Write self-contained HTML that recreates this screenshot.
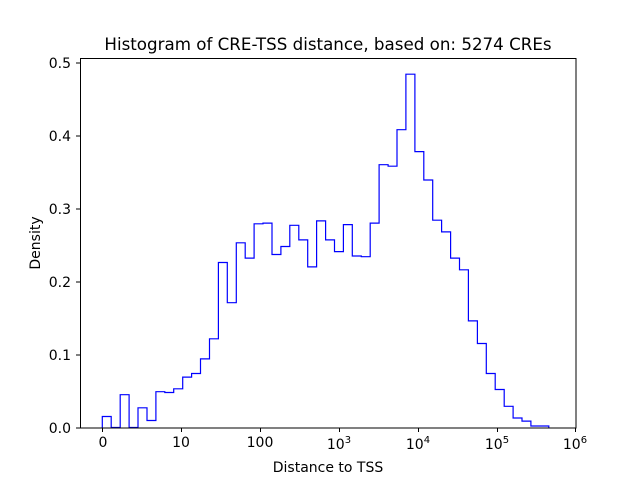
<!DOCTYPE html>
<html><head><meta charset="utf-8"><style>body{margin:0;background:#fff}svg{display:block}text{font-family:"DejaVu Sans","Liberation Sans",sans-serif;fill:#000}</style></head>
<body>
<svg width="640" height="480" viewBox="0 0 640 480" xmlns="http://www.w3.org/2000/svg">
<rect width="640" height="480" fill="#fff"/>
<path fill="none" stroke="#0000ff" stroke-width="1.2" d="M102.3,427.5 V416.5 H111.2 V427.5 H120.2 V394.7 H129.1 V427.5 H138.0 V407.8 H147.0 V420.5 H155.9 V391.7 H164.8 V392.5 H173.7 V388.8 H182.7 V377.1 H191.6 V373.5 H200.5 V358.9 H209.5 V338.8 H218.4 V262.5 H227.3 V302.7 H236.3 V242.8 H245.2 V258.1 H254.1 V223.8 H263.0 V223.1 H272.0 V254.5 H280.9 V246.5 H289.8 V225.3 H298.8 V239.9 H307.7 V266.9 H316.6 V220.9 H325.6 V239.9 H334.5 V251.6 H343.4 V224.6 H352.3 V256.0 H361.3 V256.7 H370.2 V223.1 H379.1 V164.7 H388.1 V166.2 H397.0 V129.7 H405.9 V74.2 H414.9 V151.6 H423.8 V180.0 H432.7 V220.2 H441.6 V231.9 H450.6 V258.1 H459.5 V269.8 H468.4 V320.9 H477.4 V343.5 H486.3 V373.5 H495.2 V389.5 H504.2 V406.3 H513.1 V418.0 H522.0 V421.1 H530.9 V426.0 H548.8 V427.5"/>
<rect x="80.5" y="58.5" width="495.5" height="369.5" fill="none" stroke="#000" stroke-width="1"/>
<g stroke="#000" stroke-width="1">
<line x1="80" y1="428" x2="76" y2="428"/><line x1="80" y1="355" x2="76" y2="355"/><line x1="80" y1="282" x2="76" y2="282"/><line x1="80" y1="209" x2="76" y2="209"/><line x1="80" y1="136" x2="76" y2="136"/><line x1="80" y1="63" x2="76" y2="63"/>
<line x1="102.5" y1="428" x2="102.5" y2="432"/><line x1="181.5" y1="428" x2="181.5" y2="432"/><line x1="260.5" y1="428" x2="260.5" y2="432"/><line x1="339.5" y1="428" x2="339.5" y2="432"/><line x1="418.5" y1="428" x2="418.5" y2="432"/><line x1="497.5" y1="428" x2="497.5" y2="432"/><line x1="575.5" y1="428" x2="575.5" y2="432"/>
</g>
<g font-size="14" text-anchor="end">
<text x="71" y="433">0.0</text><text x="71" y="360">0.1</text><text x="71" y="287">0.2</text><text x="71" y="214">0.3</text><text x="71" y="141">0.4</text><text x="71" y="68">0.5</text>
</g>
<g font-size="14" text-anchor="middle">
<text x="103" y="447">0</text><text x="181" y="447">10</text><text x="260" y="447">100</text>
<text x="339" y="449">10<tspan font-size="10" dy="-6">3</tspan></text>
<text x="418" y="449">10<tspan font-size="10" dy="-6">4</tspan></text>
<text x="497" y="449">10<tspan font-size="10" dy="-6">5</tspan></text>
<text x="575" y="449">10<tspan font-size="10" dy="-6">6</tspan></text>
<text x="328" y="472">Distance to TSS</text>
<text x="328" y="50" font-size="16.7">Histogram of CRE-TSS distance, based on: 5274 CREs</text>
</g>
<text transform="translate(40,243) rotate(-90)" font-size="14" text-anchor="middle">Density</text>
</svg>
</body></html>
